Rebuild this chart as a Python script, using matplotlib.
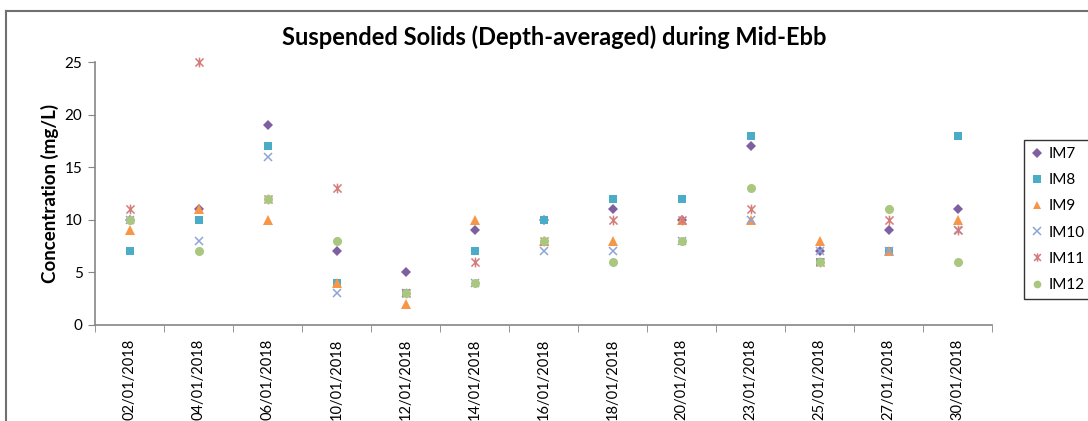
import matplotlib.pyplot as plt
from matplotlib.path import Path
from matplotlib.lines import Line2D

plt.rcParams['font.family'] = ['Lato', 'DejaVu Sans']

dates = ["02/01/2018", "04/01/2018", "06/01/2018", "10/01/2018", "12/01/2018",
         "14/01/2018", "16/01/2018", "18/01/2018", "20/01/2018", "23/01/2018",
         "25/01/2018", "27/01/2018", "30/01/2018"]

im7 = [10, 11, 19, 7, 5, 9, 10, 11, 10, 17, 7, 9, 11]
im8 = [7, 10, 17, 4, 3, 7, 10, 12, 12, 18, 6, 7, 18]
im9 = [9, 11, 10, 4, 2, 10, 8, 8, 10, 10, 8, 7, 10]
im10 = [10, 8, 16, 3, 3, 4, 7, 7, 8, 10, 7, 7, 9]
im11 = [11, 25, 12, 13, 3, 6, 8, 10, 10, 11, 6, 10, 9]
im12 = [10, 7, 12, 8, 3, 4, 8, 6, 8, 13, 6, 11, 6]

# Excel style "star" marker: an X with a vertical stroke
star = Path([(-1, -1), (1, 1), (-1, 1), (1, -1), (0, -1.2), (0, 1.2)],
            [Path.MOVETO, Path.LINETO, Path.MOVETO, Path.LINETO, Path.MOVETO, Path.LINETO])

series = [
    ("IM7", im7, 'D', '#7E5FA0', 5.5),
    ("IM8", im8, 's', '#4BACC6', 6.0),
    ("IM9", im9, '^', '#F79646', 6.5),
    ("IM10", im10, 'x', '#8EA5D8', 6.0),
    ("IM11", im11, star, '#D47C7A', 7.0),
    ("IM12", im12, 'o', '#A9C77E', 6.5),
]

fig = plt.figure(figsize=(10.88, 4.21), dpi=100)
ax = fig.add_axes([95 / 1088, 1 - 325 / 421, (992 - 95) / 1088, (325 - 62) / 421])

x = list(range(len(dates)))
for name, vals, mk, col, ms in series:
    if mk == 'x' or mk is star:
        ax.plot(x, vals, linestyle='none', marker=mk, color=col, markersize=ms,
                markeredgewidth=1.1, label=name, clip_on=False)
    else:
        ax.plot(x, vals, linestyle='none', marker=mk, color=col, markersize=ms,
                markeredgewidth=0, label=name, clip_on=False)

ax.set_xlim(-0.5, len(dates) - 0.5)
ax.set_ylim(0, 25)
ax.set_yticks([0, 5, 10, 15, 20, 25])
ax.set_xticks(x)
ax.set_xticklabels(dates, rotation=90, fontsize=10.5)
ax.set_xticks([i - 0.5 for i in range(len(dates) + 1)], minor=True)
ax.tick_params(axis='x', which='major', length=0, pad=10)
ax.tick_params(axis='x', which='minor', length=5, color='#868686', direction='out')
ax.tick_params(axis='y', length=5, color='#868686', labelsize=11, pad=4)

for s in ('top', 'right'):
    ax.spines[s].set_visible(False)
for s in ('left', 'bottom'):
    ax.spines[s].set_color('#868686')
    ax.spines[s].set_linewidth(1.2)

ax.set_ylabel("Concentration (mg/L)", fontsize=13.5, fontweight='bold', labelpad=4)
fig.text(554 / 1088, 1 - 37 / 421, "Suspended Solids (Depth-averaged) during Mid-Ebb",
         ha='center', va='center', fontsize=17, fontweight='bold')

leg = ax.legend(loc='upper left', bbox_to_anchor=(1024 / 1088, 1 - 140 / 421),
                bbox_transform=fig.transFigure, frameon=True, fancybox=False,
                fontsize=11, handlelength=0.8, handletextpad=0.35, labelspacing=0.8,
                borderpad=0.45, borderaxespad=0)
leg.get_frame().set_edgecolor('black')
leg.get_frame().set_linewidth(1.0)
for h in leg.legend_handles:
    h.set_markersize(h.get_markersize() * 0.85)

# outer chart border
border = dict(color='#707070', linewidth=1.5, transform=fig.transFigure)
fig.add_artist(Line2D([6 / 1088, 6 / 1088], [0, 1 - 11 / 421], **border))
fig.add_artist(Line2D([6 / 1088, 1], [1 - 11 / 421, 1 - 11 / 421], **border))

fig.savefig("out.png", dpi=100)
